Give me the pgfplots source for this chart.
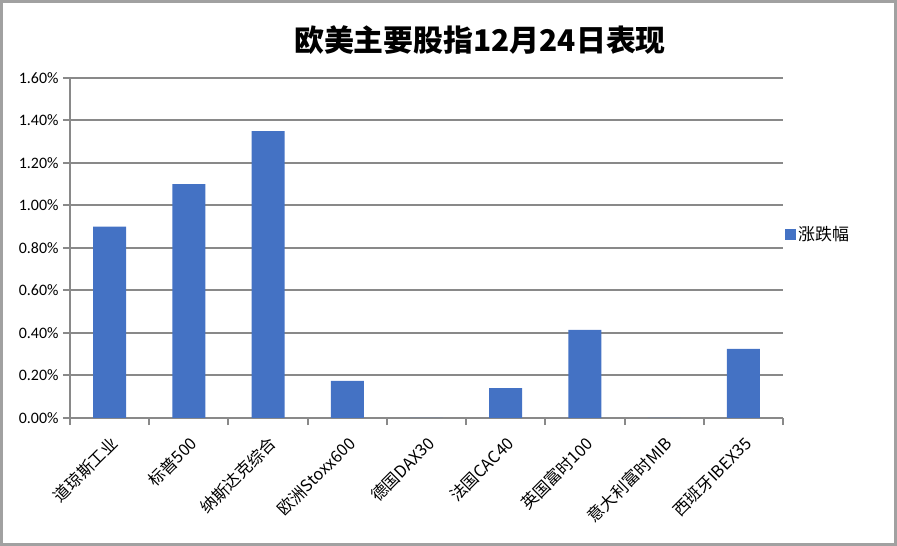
\documentclass[border=0pt]{standalone}
\usepackage{pgfplots}
\pgfplotsset{compat=1.18}
\usepackage{fontspec}
\setmainfont{Carlito}
\newfontfamily\cjk{Noto Sans CJK SC}
\definecolor{barblue}{HTML}{4472C4}
\definecolor{gridgray}{HTML}{898989}
\begin{document}
\begin{tikzpicture}
\useasboundingbox (0,0) rectangle (897bp,546bp);
\draw[gridgray!80,line width=2.5bp] (1.5bp,1.5bp) rectangle (895.5bp,544.5bp);
\node[font=\cjk\bfseries\fontsize{30}{32}\selectfont] at (480bp,506bp) {欧美主要股指12月24日表现};
\begin{axis}[
  at={(70bp,128bp)}, anchor=south west,
  scale only axis, width=713bp, height=340bp,
  xmin=-0.5, xmax=8.5, ymin=0, ymax=1.6,
  axis x line=bottom, axis y line=left,
  axis line style={-,gridgray,line width=2bp},
  ytick={0,0.2,...,1.6},
  yticklabels={0.00\%,0.20\%,0.40\%,0.60\%,0.80\%,1.00\%,1.20\%,1.40\%,1.60\%},
  ymajorgrids, grid style={gridgray,line width=2bp},
  xtick={0,...,8},
  xticklabels={道琼斯工业,标普500,纳斯达克综合,欧洲Stoxx600,德国DAX30,法国CAC40,英国富时100,意大利富时MIB,西班牙IBEX35},
  x tick label style={font=\cjk\fontsize{16.5}{18}\selectfont,rotate=45,anchor=north east,inner sep=1pt, yshift=-5.7bp, xshift=-6.4bp},
  y tick label style={font=\fontsize{16}{18}\selectfont,xshift=-1bp},
  minor xtick={-0.5,0.5,...,8.5},
  tick align=outside,
  tick style={gridgray,line width=2bp},
  major tick length=7bp, minor tick length=7bp,
  major x tick style={draw=none},
  ybar, bar width=33bp,
  legend style={at={(1.0,0.54)},anchor=west,draw=none,font=\cjk\fontsize{17}{19}\selectfont,inner sep=2pt},
  legend image code/.code={\fill[#1] (0bp,-5.5bp) rectangle (11bp,5.5bp);},
]
\addplot[fill=barblue,draw=none] coordinates {
  (0,0.90) (1,1.10) (2,1.35) (3,0.175) (4,0) (5,0.14) (6,0.415) (7,0) (8,0.325)
};
\addlegendentry{涨跌幅}
\end{axis}
\end{tikzpicture}
\end{document}
